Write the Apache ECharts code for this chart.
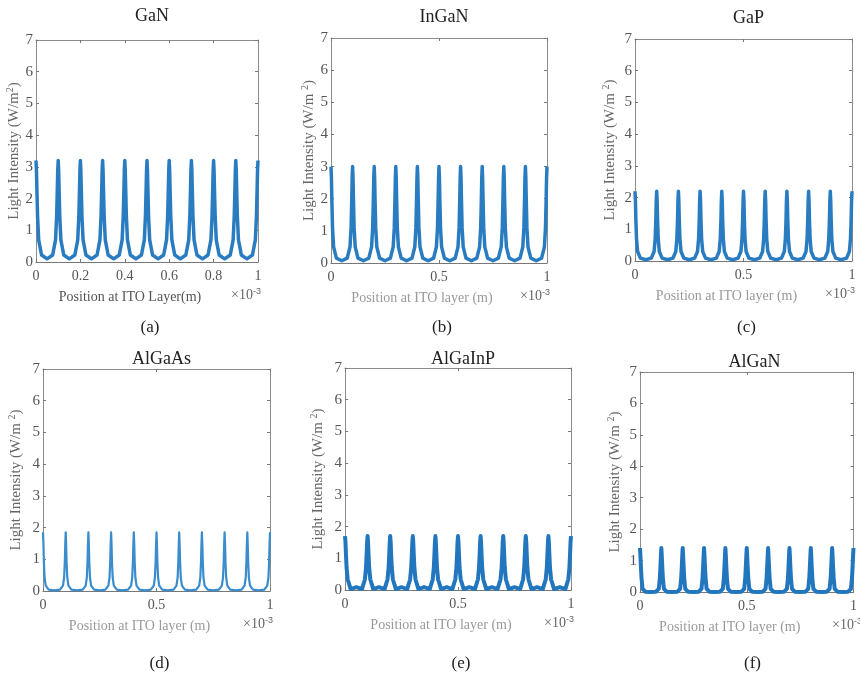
<!DOCTYPE html>
<html>
<head>
<meta charset="utf-8">
<script src="https://cdn.jsdelivr.net/npm/echarts@6/dist/echarts.min.js"></script>
<style>
  html, body { margin: 0; padding: 0; background: #fff; }
  #main { width: 860px; height: 676px; }
</style>
</head>
<body>
<div id="main"></div>
<script>
// panel names and subfigure labels
const materials = ['GaN', 'InGaN', 'GaP', 'AlGaAs', 'AlGaInP', 'AlGaN'];
const panelTags = ['(a)', '(b)', '(c)', '(d)', '(e)', '(f)'];
const xNames = [
  'Position at ITO Layer(m)',
  'Position at ITO layer (m)',
  'Position at ITO layer (m)',
  'Position at ITO layer (m)',
  'Position at ITO layer (m)',
  'Position at ITO layer (m)',
];
const xTicks = [
  [0, 0.2, 0.4, 0.6, 0.8, 1],
  [0, 0.5, 1], [0, 0.5, 1], [0, 0.5, 1], [0, 0.5, 1], [0, 0.5, 1],
];
const yTicks = [0, 1, 2, 3, 4, 5, 6, 7];

// position along the ITO layer (x 10^-3 m)
const position = [
  0, .002, .004, .007, .012, .025, .05, .075, .088, .093, .096, .098,
  .1, .102, .104, .107, .112, .125, .15, .175, .188, .193, .196, .198,
  .2, .202, .204, .207, .212, .225, .25, .275, .288, .293, .296, .298,
  .3, .302, .304, .307, .312, .325, .35, .375, .388, .393, .396, .398,
  .4, .402, .404, .407, .412, .425, .45, .475, .488, .493, .496, .498,
  .5, .502, .504, .507, .512, .525, .55, .575, .588, .593, .596, .598,
  .6, .602, .604, .607, .612, .625, .65, .675, .688, .693, .696, .698,
  .7, .702, .704, .707, .712, .725, .75, .775, .788, .793, .796, .798,
  .8, .802, .804, .807, .812, .825, .85, .875, .888, .893, .896, .898,
  .9, .902, .904, .907, .912, .925, .95, .975, .988, .993, .996, .998,
  1,
];

// light intensity (W/m^2)
const intensityGaN = [
  3.2, 2.9, 2.3, 1.45, 0.7, 0.22, 0.10, 0.22, 0.7, 1.45, 2.3, 2.9,
  3.2, 2.9, 2.3, 1.45, 0.7, 0.22, 0.10, 0.22, 0.7, 1.45, 2.3, 2.9,
  3.2, 2.9, 2.3, 1.45, 0.7, 0.22, 0.10, 0.22, 0.7, 1.45, 2.3, 2.9,
  3.2, 2.9, 2.3, 1.45, 0.7, 0.22, 0.10, 0.22, 0.7, 1.45, 2.3, 2.9,
  3.2, 2.9, 2.3, 1.45, 0.7, 0.22, 0.10, 0.22, 0.7, 1.45, 2.3, 2.9,
  3.2, 2.9, 2.3, 1.45, 0.7, 0.22, 0.10, 0.22, 0.7, 1.45, 2.3, 2.9,
  3.2, 2.9, 2.3, 1.45, 0.7, 0.22, 0.10, 0.22, 0.7, 1.45, 2.3, 2.9,
  3.2, 2.9, 2.3, 1.45, 0.7, 0.22, 0.10, 0.22, 0.7, 1.45, 2.3, 2.9,
  3.2, 2.9, 2.3, 1.45, 0.7, 0.22, 0.10, 0.22, 0.7, 1.45, 2.3, 2.9,
  3.2, 2.9, 2.3, 1.45, 0.7, 0.22, 0.10, 0.22, 0.7, 1.45, 2.3, 2.9,
  3.2,
];
const intensityInGaN = [
  3.0, 2.65, 1.95, 1.1, 0.5, 0.15, 0.07, 0.15, 0.5, 1.1, 1.95, 2.65,
  3.0, 2.65, 1.95, 1.1, 0.5, 0.15, 0.07, 0.15, 0.5, 1.1, 1.95, 2.65,
  3.0, 2.65, 1.95, 1.1, 0.5, 0.15, 0.07, 0.15, 0.5, 1.1, 1.95, 2.65,
  3.0, 2.65, 1.95, 1.1, 0.5, 0.15, 0.07, 0.15, 0.5, 1.1, 1.95, 2.65,
  3.0, 2.65, 1.95, 1.1, 0.5, 0.15, 0.07, 0.15, 0.5, 1.1, 1.95, 2.65,
  3.0, 2.65, 1.95, 1.1, 0.5, 0.15, 0.07, 0.15, 0.5, 1.1, 1.95, 2.65,
  3.0, 2.65, 1.95, 1.1, 0.5, 0.15, 0.07, 0.15, 0.5, 1.1, 1.95, 2.65,
  3.0, 2.65, 1.95, 1.1, 0.5, 0.15, 0.07, 0.15, 0.5, 1.1, 1.95, 2.65,
  3.0, 2.65, 1.95, 1.1, 0.5, 0.15, 0.07, 0.15, 0.5, 1.1, 1.95, 2.65,
  3.0, 2.65, 1.95, 1.1, 0.5, 0.15, 0.07, 0.15, 0.5, 1.1, 1.95, 2.65,
  3.0,
];
const intensityGaP = [
  2.2, 1.9, 1.3, 0.7, 0.3, 0.09, 0.04, 0.09, 0.3, 0.7, 1.3, 1.9,
  2.2, 1.9, 1.3, 0.7, 0.3, 0.09, 0.04, 0.09, 0.3, 0.7, 1.3, 1.9,
  2.2, 1.9, 1.3, 0.7, 0.3, 0.09, 0.04, 0.09, 0.3, 0.7, 1.3, 1.9,
  2.2, 1.9, 1.3, 0.7, 0.3, 0.09, 0.04, 0.09, 0.3, 0.7, 1.3, 1.9,
  2.2, 1.9, 1.3, 0.7, 0.3, 0.09, 0.04, 0.09, 0.3, 0.7, 1.3, 1.9,
  2.2, 1.9, 1.3, 0.7, 0.3, 0.09, 0.04, 0.09, 0.3, 0.7, 1.3, 1.9,
  2.2, 1.9, 1.3, 0.7, 0.3, 0.09, 0.04, 0.09, 0.3, 0.7, 1.3, 1.9,
  2.2, 1.9, 1.3, 0.7, 0.3, 0.09, 0.04, 0.09, 0.3, 0.7, 1.3, 1.9,
  2.2, 1.9, 1.3, 0.7, 0.3, 0.09, 0.04, 0.09, 0.3, 0.7, 1.3, 1.9,
  2.2, 1.9, 1.3, 0.7, 0.3, 0.09, 0.04, 0.09, 0.3, 0.7, 1.3, 1.9,
  2.2,
];
const intensityAlGaAs = [
  1.85, 1.45, 0.9, 0.42, 0.17, 0.045, 0.02, 0.045, 0.17, 0.42, 0.9, 1.45,
  1.85, 1.45, 0.9, 0.42, 0.17, 0.045, 0.02, 0.045, 0.17, 0.42, 0.9, 1.45,
  1.85, 1.45, 0.9, 0.42, 0.17, 0.045, 0.02, 0.045, 0.17, 0.42, 0.9, 1.45,
  1.85, 1.45, 0.9, 0.42, 0.17, 0.045, 0.02, 0.045, 0.17, 0.42, 0.9, 1.45,
  1.85, 1.45, 0.9, 0.42, 0.17, 0.045, 0.02, 0.045, 0.17, 0.42, 0.9, 1.45,
  1.85, 1.45, 0.9, 0.42, 0.17, 0.045, 0.02, 0.045, 0.17, 0.42, 0.9, 1.45,
  1.85, 1.45, 0.9, 0.42, 0.17, 0.045, 0.02, 0.045, 0.17, 0.42, 0.9, 1.45,
  1.85, 1.45, 0.9, 0.42, 0.17, 0.045, 0.02, 0.045, 0.17, 0.42, 0.9, 1.45,
  1.85, 1.45, 0.9, 0.42, 0.17, 0.045, 0.02, 0.045, 0.17, 0.42, 0.9, 1.45,
  1.85, 1.45, 0.9, 0.42, 0.17, 0.045, 0.02, 0.045, 0.17, 0.42, 0.9, 1.45,
  1.85,
];
const intensityAlGaInP = [
  1.7, 1.52, 1.16, 0.70, 0.33, 0.03, 0.09, 0.03, 0.33, 0.70, 1.16, 1.52,
  1.7, 1.52, 1.16, 0.70, 0.33, 0.03, 0.09, 0.03, 0.33, 0.70, 1.16, 1.52,
  1.7, 1.52, 1.16, 0.70, 0.33, 0.03, 0.09, 0.03, 0.33, 0.70, 1.16, 1.52,
  1.7, 1.52, 1.16, 0.70, 0.33, 0.03, 0.09, 0.03, 0.33, 0.70, 1.16, 1.52,
  1.7, 1.52, 1.16, 0.70, 0.33, 0.03, 0.09, 0.03, 0.33, 0.70, 1.16, 1.52,
  1.7, 1.52, 1.16, 0.70, 0.33, 0.03, 0.09, 0.03, 0.33, 0.70, 1.16, 1.52,
  1.7, 1.52, 1.16, 0.70, 0.33, 0.03, 0.09, 0.03, 0.33, 0.70, 1.16, 1.52,
  1.7, 1.52, 1.16, 0.70, 0.33, 0.03, 0.09, 0.03, 0.33, 0.70, 1.16, 1.52,
  1.7, 1.52, 1.16, 0.70, 0.33, 0.03, 0.09, 0.03, 0.33, 0.70, 1.16, 1.52,
  1.7, 1.52, 1.16, 0.70, 0.33, 0.03, 0.09, 0.03, 0.33, 0.70, 1.16, 1.52,
  1.7,
];
const intensityAlGaN = [
  1.4, 1.15, 0.85, 0.45, 0.1, 0.01, 0.0, 0.01, 0.1, 0.45, 0.85, 1.15,
  1.4, 1.15, 0.85, 0.45, 0.1, 0.01, 0.0, 0.01, 0.1, 0.45, 0.85, 1.15,
  1.4, 1.15, 0.85, 0.45, 0.1, 0.01, 0.0, 0.01, 0.1, 0.45, 0.85, 1.15,
  1.4, 1.15, 0.85, 0.45, 0.1, 0.01, 0.0, 0.01, 0.1, 0.45, 0.85, 1.15,
  1.4, 1.15, 0.85, 0.45, 0.1, 0.01, 0.0, 0.01, 0.1, 0.45, 0.85, 1.15,
  1.4, 1.15, 0.85, 0.45, 0.1, 0.01, 0.0, 0.01, 0.1, 0.45, 0.85, 1.15,
  1.4, 1.15, 0.85, 0.45, 0.1, 0.01, 0.0, 0.01, 0.1, 0.45, 0.85, 1.15,
  1.4, 1.15, 0.85, 0.45, 0.1, 0.01, 0.0, 0.01, 0.1, 0.45, 0.85, 1.15,
  1.4, 1.15, 0.85, 0.45, 0.1, 0.01, 0.0, 0.01, 0.1, 0.45, 0.85, 1.15,
  1.4, 1.15, 0.85, 0.45, 0.1, 0.01, 0.0, 0.01, 0.1, 0.45, 0.85, 1.15,
  1.4,
];
const intensities = [intensityGaN, intensityInGaN, intensityGaP, intensityAlGaAs, intensityAlGaInP, intensityAlGaN];

// layout of each panel
const boxes = [
  { left: 36, top: 40, width: 222, height: 222 },
  { left: 331, top: 38, width: 216, height: 225 },
  { left: 635, top: 39, width: 217, height: 222 },
  { left: 43, top: 369, width: 227, height: 222 },
  { left: 345, top: 368, width: 226, height: 222 },
  { left: 640, top: 372, width: 219, height: 220 },
];
const titleTops = [2, 3, 4, 345, 345, 348];
const yNameGaps = [6, 12, 16, 18, 18, 16];
const lineWidths = [3.5, 3.5, 3.5, 2.2, 4, 4];
const lineColors = ['#2a7cc0', '#2a7cc0', '#2a7cc0', '#3a8ccd', '#2276bd', '#2276bd'];

const serif = 'Liberation Serif';
const frame = '#8c8c8c';
const grids = [], xAxes = [], yAxes = [], series = [], titles = [], graphics = [];

boxes.forEach((b, i) => {
  grids.push({ left: b.left, top: b.top, width: b.width, height: b.height });
  const ticks = xTicks[i];
  const xStep = ticks[1] - ticks[0];
  const nameColor = i === 0 ? '#555' : '#999';
  const tick = { show: true, inside: true, length: 3, lineStyle: { color: '#777' } };
  xAxes.push({
    gridIndex: i, type: 'value', min: 0, max: 1, interval: xStep, position: 'bottom',
    axisLine: { show: true, onZero: false, lineStyle: { color: '#777' } },
    axisTick: tick,
    splitLine: { show: false },
    axisLabel: { color: '#555', fontFamily: serif, fontSize: 14, margin: 7 },
    name: xNames[i], nameLocation: 'middle', nameGap: 28,
    nameTextStyle: { color: nameColor, fontFamily: serif, fontSize: 14, padding: [0, 34, 0, 0] },
  });
  xAxes.push({
    gridIndex: i, type: 'value', min: 0, max: 1, interval: xStep, position: 'top',
    axisLine: { show: true, onZero: false, lineStyle: { color: frame } }, axisTick: tick,
    axisLabel: { show: false }, splitLine: { show: false },
  });
  yAxes.push({
    gridIndex: i, type: 'value', min: yTicks[0], max: yTicks[yTicks.length - 1], interval: 1, position: 'left',
    axisLine: { show: true, onZero: false, lineStyle: { color: frame } },
    axisTick: tick,
    splitLine: { show: false },
    axisLabel: { color: '#555', fontFamily: serif, fontSize: 15, margin: 3 },
    name: i === 0 ? 'Light Intensity (W/m{sup|2})' : 'Light Intensity (W/m {sup|2})',
    nameLocation: 'middle', nameGap: yNameGaps[i], nameRotate: 90,
    nameTextStyle: {
      color: '#666', fontFamily: serif, fontSize: 15,
      rich: { sup: { fontSize: 10, fontFamily: serif, color: '#666', padding: [0, 0, 8, 0] } },
    },
  });
  yAxes.push({
    gridIndex: i, type: 'value', min: 0, max: 7, interval: 1, position: 'right',
    axisLine: { show: true, onZero: false, lineStyle: { color: frame } }, axisTick: tick,
    axisLabel: { show: false }, splitLine: { show: false },
  });
  series.push({
    type: 'line', xAxisIndex: i * 2, yAxisIndex: i * 2, showSymbol: false, symbol: 'none',
    data: position.map((x, k) => [x, intensities[i][k]]),
    lineStyle: { color: lineColors[i], width: lineWidths[i], join: 'round' },
    clip: true, animation: false,
  });
  const cx = b.left + b.width / 2;
  titles.push({
    text: materials[i], left: cx, top: titleTops[i], textAlign: 'center',
    textStyle: { fontFamily: serif, fontSize: 18, fontWeight: 'normal', color: '#222' },
  });
  titles.push({
    text: panelTags[i], left: cx - 2, top: i < 3 ? 314 : 650, textAlign: 'center',
    textStyle: { fontFamily: serif, fontSize: 17, fontWeight: 'normal', color: '#222' },
  });
  graphics.push({
    type: 'text', left: b.left + b.width - 27, top: b.top + b.height + 25,
    style: {
      text: '\u00d710{s|-3}', fill: '#666', font: '14px "' + serif + '"',
      rich: { s: { fontSize: 9, fill: '#666', padding: [0, 0, 8, 0] } },
    },
  });
});

const chart = echarts.init(document.getElementById('main'), null, { width: 860, height: 676 });
chart.setOption({
  backgroundColor: '#fff',
  animation: false,
  title: titles,
  grid: grids,
  xAxis: xAxes,
  yAxis: yAxes,
  series: series,
  graphic: graphics,
});
</script>
</body>
</html>
